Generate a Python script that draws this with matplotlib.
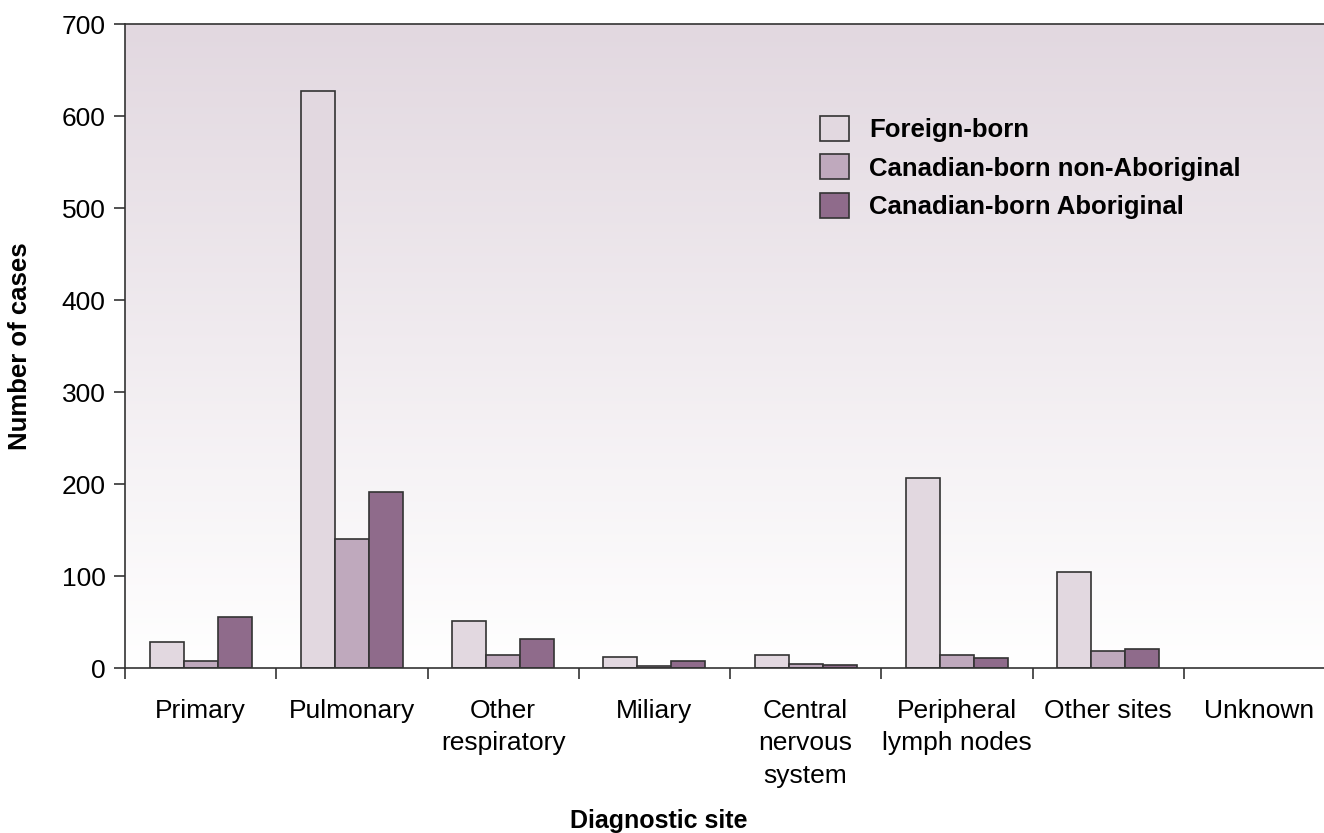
import matplotlib.pyplot as plt
import numpy as np
from matplotlib.colors import LinearSegmentedColormap

plt.rcParams['font.family'] = ['Liberation Sans', 'DejaVu Sans']

# Datos
sites = ["Primary", "Pulmonary", "Other\nrespiratory", "Miliary",
         "Central\nnervous\nsystem", "Peripheral\nlymph nodes", "Other sites", "Unknown"]
foreign_born = [28, 627, 51, 12, 14, 206, 104, 0]
canadian_non_ab = [8, 140, 14, 2, 4, 14, 19, 0]
canadian_ab = [55, 191, 31, 8, 3, 11, 21, 0]
series_names = ["Foreign-born", "Canadian-born non-Aboriginal", "Canadian-born Aboriginal"]
colors = ["#E2D8E0", "#BFA9BD", "#8F6B8B"]

fig = plt.figure(figsize=(13.24, 8.33), dpi=100)
ax = fig.add_axes([125 / 1324, 165 / 833, 1210 / 1324, 644 / 833])

# Fondo degradado
cmap = LinearSegmentedColormap.from_list("bg", ["#FFFFFF", "#E2D8E0"])
grad = np.linspace(0, 1, 256).reshape(-1, 1)
ax.imshow(grad, aspect='auto', cmap=cmap, origin='lower',
          extent=[0, 1, 0, 1], transform=ax.transAxes, zorder=0)

n = len(sites)
x = np.arange(n) + 0.5
w = 0.225
for i, (vals, name, c) in enumerate(zip([foreign_born, canadian_non_ab, canadian_ab],
                                        series_names, colors)):
    vals = np.array(vals, dtype=float)
    ax.bar(x + (i - 1) * w, vals, w, color=c,
           edgecolor=["#333333" if v > 0 else "none" for v in vals],
           linewidth=1.2, label=name, zorder=2)

ax.set_xlim(0, n)
ax.set_ylim(0, 700)
ax.set_yticks(range(0, 701, 100))
ax.set_xticks(np.arange(n))
ax.set_xticklabels([])
ax.set_xticks(x, minor=True)
ax.set_xticklabels(sites, minor=True, linespacing=1.45)
ax.tick_params(axis='x', which='minor', length=0, pad=22, labelsize=19)
ax.tick_params(axis='x', which='major', length=8, width=1.2, color="#333333")
ax.tick_params(axis='y', length=8, width=1.2, color="#333333", labelsize=19, pad=6)

for s in ['left', 'bottom', 'top', 'right']:
    ax.spines[s].set_color("#333333")
    ax.spines[s].set_linewidth(1.2)

ax.set_ylabel("Number of cases", fontsize=18.5, fontweight='bold', labelpad=21)
fig.text(659 / 1324, 0, "Diagnostic site", fontsize=18,
         fontweight='bold', ha='center', va='bottom')

ax.legend(loc='upper left', bbox_to_anchor=(0.5555, 0.893), frameon=False,
          prop={'size': 18.5, 'weight': 'bold'}, handlelength=1.1, handleheight=1.1,
          labelspacing=0.48, handletextpad=0.8)

plt.savefig('out.png', dpi=100)
